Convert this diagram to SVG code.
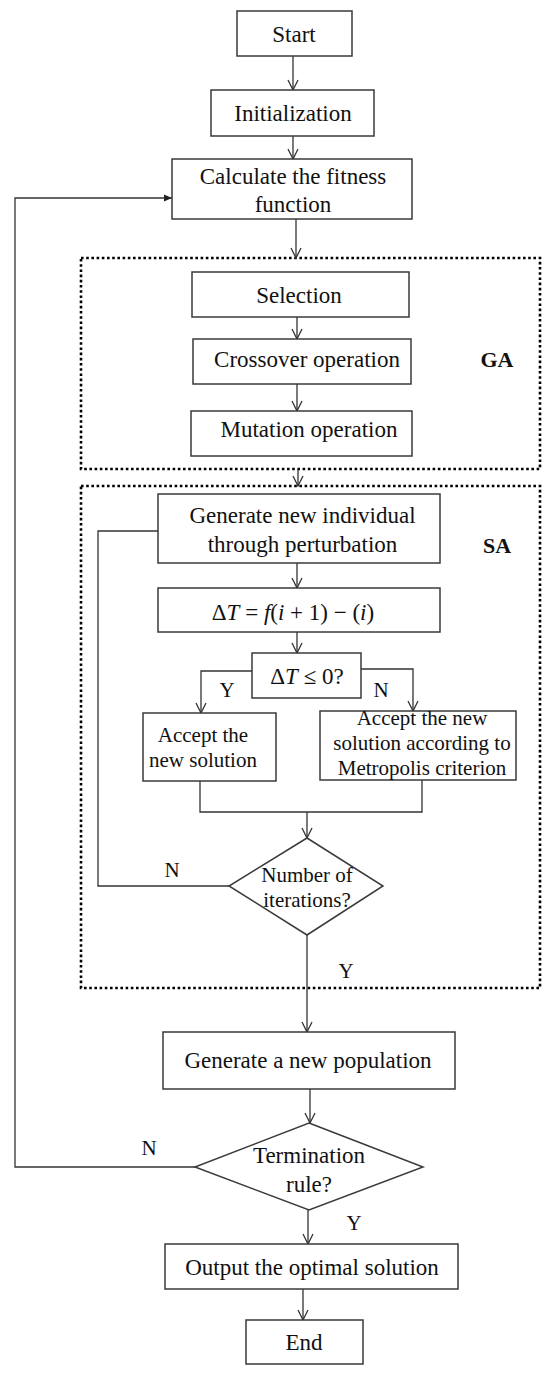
<svg xmlns="http://www.w3.org/2000/svg" width="550" height="1375" viewBox="0 0 550 1375">
<style>
.box{fill:#fff;stroke:#3a3a3a;stroke-width:1.5}
.t{font-family:"Liberation Serif","Times New Roman",serif;font-size:23px;fill:#111;text-anchor:middle}
.s{font-size:21px}
.b{font-weight:bold;font-size:22px}
.it{font-style:italic}
.ln{fill:none;stroke:#333;stroke-width:1.3}
.dot{fill:none;stroke:#000;stroke-width:2.6;stroke-dasharray:2.6 2.6}
</style>
<defs>
<marker id="open" markerUnits="userSpaceOnUse" viewBox="-1 -6 12 12" markerWidth="12" markerHeight="12" refX="10" refY="0" orient="auto">
<path d="M0,-5 L10,0 L0,5" fill="none" stroke="#333" stroke-width="1.3"/>
</marker>
<marker id="solid" markerUnits="userSpaceOnUse" viewBox="0 -4 9 8" markerWidth="9" markerHeight="8" refX="8" refY="0" orient="auto">
<path d="M0,-3.5 L8,0 L0,3.5 Z" fill="#222"/>
</marker>
</defs>
<rect fill="#fff" x="0" y="0" width="550" height="1375"/>
<g id="ga-frame"><rect class="dot" x="81" y="258" width="459" height="211"/><text class="t b" x="497" y="367">GA</text></g>
<g id="sa-frame"><rect class="dot" x="81" y="486" width="459" height="502"/><text class="t b" x="497" y="553">SA</text></g>
<g id="connectors">
<path class="ln" d="M293,56 V90" marker-end="url(#open)"/>
<path class="ln" d="M293,136 V159" marker-end="url(#open)"/>
<path class="ln" d="M296,219 V258" marker-end="url(#open)"/>
<path class="ln" d="M297,317 V339" marker-end="url(#open)"/>
<path class="ln" d="M297,384 V411" marker-end="url(#open)"/>
<path class="ln" d="M298,469 V486" marker-end="url(#open)"/>
<path class="ln" d="M297,563 V588" marker-end="url(#open)"/>
<path class="ln" d="M297,632 V653" marker-end="url(#open)"/>
<path class="ln" d="M252,671 H201 V713" marker-end="url(#open)"/>
<path class="ln" d="M361,669 H413 V711" marker-end="url(#open)"/>
<path class="ln" d="M200,781 V812 H422 V780"/>
<path class="ln" d="M307,812 V838" marker-end="url(#open)"/>
<path class="ln" d="M229,886 H98 V531 H158"/>
<path class="ln" d="M307,935 V1032" marker-end="url(#open)"/>
<path class="ln" d="M310,1089 V1123" marker-end="url(#open)"/>
<path class="ln" d="M195,1167 H15 V198 H172" marker-end="url(#solid)"/>
<path class="ln" d="M308,1210 V1244" marker-end="url(#open)"/>
<path class="ln" d="M303,1289 V1320" marker-end="url(#open)"/>
<text class="t s" x="227" y="697">Y</text>
<text class="t s" x="381" y="697">N</text>
<text class="t s" x="172" y="877">N</text>
<text class="t s" x="346" y="978">Y</text>
<text class="t s" x="149" y="1155">N</text>
<text class="t s" x="354" y="1230">Y</text>
</g>
<g id="start"><rect class="box" x="237" y="11" width="115" height="45"/><text class="t" x="294" y="41.5">Start</text></g>
<g id="init"><rect class="box" x="211" y="90" width="163" height="46"/><text class="t" x="293" y="121">Initialization</text></g>
<g id="fitness"><rect class="box" x="172" y="159" width="240" height="60"/><text class="t" x="293" y="184">Calculate the fitness</text><text class="t" x="293" y="212">function</text></g>
<g id="selection"><rect class="box" x="192" y="272" width="217" height="45"/><text class="t" x="299" y="303">Selection</text></g>
<g id="crossover"><rect class="box" x="193" y="339" width="218" height="45"/><text class="t" x="307" y="367">Crossover operation</text></g>
<g id="mutation"><rect class="box" x="191" y="411" width="221" height="45"/><text class="t" x="309" y="437">Mutation operation</text></g>
<g id="perturb"><rect class="box" x="158" y="494" width="282" height="69"/><text class="t" x="302.5" y="523">Generate new individual</text><text class="t" x="302.5" y="552">through perturbation</text></g>
<g id="delta"><rect class="box" x="158" y="588" width="282" height="44"/><text class="t" x="293" y="620">Δ<tspan class="it">T</tspan> = <tspan class="it">f</tspan>(<tspan class="it">i</tspan> + 1) − (<tspan class="it">i</tspan>)</text></g>
<g id="check"><rect class="box" x="252" y="653" width="109" height="45"/><text class="t" x="307" y="684">Δ<tspan class="it">T</tspan> ≤ 0?</text></g>
<g id="accept"><rect class="box" x="143" y="713" width="133" height="68"/><text class="t s" x="203" y="742">Accept the</text><text class="t s" x="203" y="767">new solution</text></g>
<g id="metropolis"><rect class="box" x="320" y="711" width="196" height="69"/><text class="t s" x="422" y="725">Accept the new</text><text class="t s" x="422" y="750">solution according to</text><text class="t s" x="422" y="775">Metropolis criterion</text></g>
<g id="iterations"><polygon class="box" points="307,838 383,886 307,935 229,886"/><text class="t s" x="307" y="882">Number of</text><text class="t s" x="307" y="907">iterations?</text></g>
<g id="newpop"><rect class="box" x="163" y="1032" width="292" height="57"/><text class="t" x="308" y="1068">Generate a new population</text></g>
<g id="termination"><polygon class="box" points="309,1123 423,1167 309,1210 195,1167"/><text class="t" x="309" y="1163">Termination</text><text class="t" x="309" y="1192">rule?</text></g>
<g id="output"><rect class="box" x="165" y="1244" width="293" height="45"/><text class="t" x="312" y="1275">Output the optimal solution</text></g>
<g id="end"><rect class="box" x="246" y="1320" width="117" height="44"/><text class="t" x="304" y="1350">End</text></g>
</svg>
